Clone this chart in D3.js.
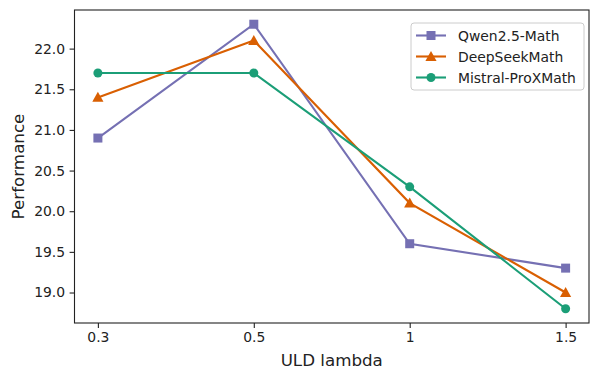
<!DOCTYPE html>
<html>
<head>
<meta charset="utf-8">
<script src="https://cdn.jsdelivr.net/npm/d3@7"></script>
<style>
  body { margin: 0; background: #fff; }
  text { font-family: "DejaVu Sans", sans-serif; fill: #222; }
</style>
</head>
<body>
<div id="chart"></div>
<script>
// data
var lambdas = ["0.3", "0.5", "1", "1.5"];
var seriesNames = ["Qwen2.5-Math", "DeepSeekMath", "Mistral-ProXMath"];
var qwen = [20.9, 22.3, 19.6, 19.3];
var deepseek = [21.4, 22.1, 20.1, 19.0];
var mistral = [21.7, 21.7, 20.3, 18.8];
var yTicks = [19.0, 19.5, 20.0, 20.5, 21.0, 21.5, 22.0];

var colors = ["#7570b3", "#d95f02", "#1b9e77"];
var markers = ["square", "triangle", "circle"];
var allSeries = [qwen, deepseek, mistral];

var svgWidth = 600, svgHeight = 380;
var margin = { top: 10, right: 11, bottom: 57, left: 74.5 };
var width = svgWidth - margin.left - margin.right;
var height = svgHeight - margin.top - margin.bottom;

var svg = d3.select("#chart").append("svg")
  .attr("width", svgWidth)
  .attr("height", svgHeight);

var chartGroup = svg.append("g")
  .attr("transform", `translate(${margin.left}, ${margin.top})`);

// matplotlib style 5% padding
var n = lambdas.length;
var xScale = d3.scaleLinear()
  .domain([-0.15, n - 1 + 0.15])
  .range([0, width]);

var yMin = d3.min(allSeries, s => d3.min(s));
var yMax = d3.max(allSeries, s => d3.max(s));
var pad = (yMax - yMin) * 0.05;
var yScale = d3.scaleLinear()
  .domain([yMin - pad, yMax + pad])
  .range([height, 0]);

// axes
var xAxis = d3.axisBottom(xScale)
  .tickValues(d3.range(n))
  .tickFormat(i => lambdas[i])
  .tickSize(4.9).tickPadding(4.5);
var yAxis = d3.axisLeft(yScale)
  .tickValues(yTicks)
  .tickFormat(d3.format(".1f"))
  .tickSize(4.9).tickPadding(4.5);

var gx = chartGroup.append("g")
  .attr("transform", `translate(0, ${height})`)
  .call(xAxis);
var gy = chartGroup.append("g").call(yAxis);

[gx, gy].forEach(g => {
  g.select(".domain").remove();
  g.selectAll(".tick line").attr("stroke", "#222").attr("stroke-width", 1.1);
  g.selectAll(".tick text").attr("font-size", "13.9px").style("fill", "#222")
    .attr("font-family", "DejaVu Sans, sans-serif");
});

// frame
chartGroup.append("rect")
  .attr("width", width).attr("height", height)
  .attr("fill", "none").attr("stroke", "#222").attr("stroke-width", 1.1);

// axis labels
chartGroup.append("text")
  .attr("x", width / 2).attr("y", height + 43)
  .attr("text-anchor", "middle")
  .attr("font-size", "16.7px")
  .text("ULD lambda");

chartGroup.append("text")
  .attr("transform", `translate(${-51}, ${height / 2}) rotate(-90)`)
  .attr("text-anchor", "middle")
  .attr("font-size", "16.7px")
  .text("Performance");

function drawMarker(g, type, color, x, y, s) {
  if (type === "square") {
    g.append("rect").attr("x", x - s / 2).attr("y", y - s / 2)
      .attr("width", s).attr("height", s).attr("fill", color);
  } else if (type === "triangle") {
    var r = s * 0.62;
    g.append("path")
      .attr("d", `M${x},${y - r} L${x + r},${y + r * 0.8} L${x - r},${y + r * 0.8} Z`)
      .attr("fill", color);
  } else {
    g.append("circle").attr("cx", x).attr("cy", y).attr("r", s / 2).attr("fill", color);
  }
}

var line = d3.line()
  .x((d, i) => xScale(i))
  .y(d => yScale(d));

allSeries.forEach(function(vals, k) {
  chartGroup.append("path")
    .datum(vals)
    .attr("d", line)
    .attr("fill", "none")
    .attr("stroke", colors[k])
    .attr("stroke-width", 2.1);
  var mg = chartGroup.append("g");
  vals.forEach((v, i) => drawMarker(mg, markers[k], colors[k], xScale(i), yScale(v), 9));
});

// legend
var legend = svg.append("g").attr("transform", "translate(411, 23)");
legend.append("rect")
  .attr("width", 173).attr("height", 67).attr("rx", 3)
  .attr("fill", "#fff").attr("fill-opacity", 0.8)
  .attr("stroke", "#ccc").attr("stroke-width", 1);

seriesNames.forEach(function(name, k) {
  var yy = 12.5 + k * 21;
  legend.append("line")
    .attr("x1", 5).attr("x2", 35).attr("y1", yy).attr("y2", yy)
    .attr("stroke", colors[k]).attr("stroke-width", 2.1);
  drawMarker(legend, markers[k], colors[k], 20, yy, 9);
  legend.append("text")
    .attr("x", 47).attr("y", yy + 5)
    .attr("font-size", "13.9px")
    .text(name);
});
</script>
</body>
</html>
